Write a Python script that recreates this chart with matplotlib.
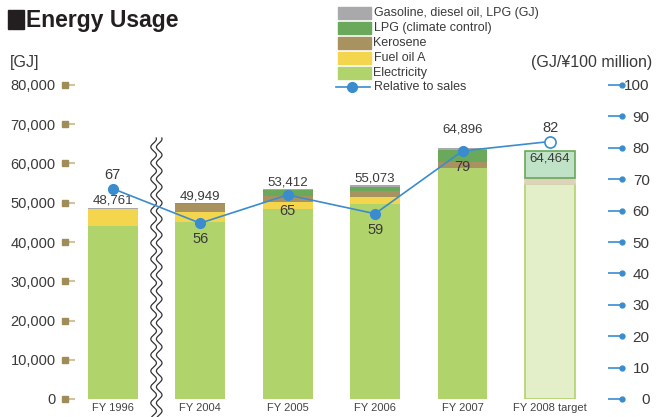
import numpy as np
import matplotlib
matplotlib.use('Agg')
import matplotlib.pyplot as plt
from matplotlib.patches import Rectangle
from matplotlib.lines import Line2D
from matplotlib import transforms

# values
years = ['FY 1996', 'FY 2004', 'FY 2005', 'FY 2006', 'FY 2007', 'FY 2008 target']
electricity = [44100, 45170, 48400, 49700, 58930, 54780]
fuel_oil_a = [4200, 2470, 1790, 1780, 0, 0]
kerosene = [0, 2110, 1600, 1450, 1530, 1530]
lpg_climate = [0, 200, 1530, 1100, 2980, 6960]
gasoline = [461, 0, 92, 430, 430, 0]
totals = [48761, 49949, 53412, 55073, 64896, 64464]
relative = [67, 56, 65, 59, 79, 82]

series_names = ['Gasoline, diesel oil, LPG (GJ)', 'LPG (climate control)', 'Kerosene',
                'Fuel oil A', 'Electricity']
colors = ['#a9a9ac', '#6aa85c', '#a89360', '#f3d54e', '#b0d36b']
target_colors = ['#a9a9ac', '#c0e3c8', '#ddd3bb', '#f7ec9f', '#e3efc9']
line_color = '#3a8ccf'
text_color = '#3a3a3a'
tick_tan = '#a08c58'

plt.rcParams['font.family'] = ['Liberation Sans', 'DejaVu Sans']

W, H = 667, 417
fig = plt.figure(figsize=(W / 100, H / 100), dpi=100)

def px(x0, y0, x1, y1):
    return [x0 / W, 1 - y1 / H, (x1 - x0) / W, (y1 - y0) / H]

ax = fig.add_axes(px(75, 85, 608, 399))
ax2 = ax.twinx()

x = np.arange(len(years))
bw = 0.57
stack = [electricity, fuel_oil_a, kerosene, lpg_climate, gasoline]
stack_colors = colors[::-1]
stack_target = target_colors[::-1]
target_edges = {'#e3efc9': '#b0d36b', '#c0e3c8': '#6aa85c'}
bottom = np.zeros(len(years))
for vals, c, ct in zip(stack, stack_colors, stack_target):
    vals = np.array(vals, dtype=float)
    ax.bar(x[:-1], vals[:-1], bw, bottom=bottom[:-1], color=c, zorder=2)
    if vals[-1] > 0:
        ax.bar(x[-1], vals[-1], bw, bottom=bottom[-1], color=ct,
               edgecolor=target_edges.get(ct, ct), linewidth=1.2, zorder=2)
    bottom += vals

ax.set_xlim(-0.431, 5.663)
ax.set_ylim(0, 80000)
ax2.set_ylim(0, 100)

# total labels
for i, (t, b) in enumerate(zip(totals, bottom)):
    lab = f'{t:,}'
    if i == len(years) - 1:
        ax.text(x[i], 61300, lab, ha='center', va='center', fontsize=9.5, color=text_color, zorder=5)
    elif i == 4:
        ax.annotate(lab, (x[i], b), xytext=(0, 9), textcoords='offset points',
                    ha='center', va='bottom', fontsize=9.5, color=text_color, zorder=5)
    else:
        ax.annotate(lab, (x[i], b), xytext=(0, 0.5), textcoords='offset points',
                    ha='center', va='bottom', fontsize=9.5, color=text_color, zorder=5)

# relative to sales line
ax2.plot(x, relative, color=line_color, lw=1.2, zorder=6)
ax2.plot(x[:-1], relative[:-1], 'o', color=line_color, ms=7, zorder=7)
ax2.plot(x[-1], relative[-1], 'o', mfc='white', mec=line_color, mew=1.2, ms=8, zorder=7)
for i, r in enumerate(relative):
    up = i in (0, len(relative) - 1)
    ax2.annotate(str(r), (x[i], r), xytext=(0, 9.5 if up else -11.5), textcoords='offset points',
                 ha='center', va='center', fontsize=10.5, color=text_color, zorder=8)

# axis break squiggle
yy = np.linspace(66500, -4600, 400)
phase = yy / 80000 * 314 / 16 * 2 * np.pi
amp = 2.8 / 87.46
for off in (-2.8, 2.8):
    ax.plot(0.5 + off / 87.46 + amp * np.sin(phase), yy, color='#333333', lw=0.9,
            clip_on=False, zorder=4)
ax.fill_betweenx(yy, 0.5 - 2.8 / 87.46 + amp * np.sin(phase),
                 0.5 + 2.8 / 87.46 + amp * np.sin(phase), color='white', zorder=3, clip_on=False)

# axes styling
for a in (ax, ax2):
    for s in a.spines.values():
        s.set_visible(False)
ax.set_xticks(x)
ax.set_xticklabels(years, fontsize=8, color='#444444')
ax.tick_params(axis='x', length=0, pad=3)
ax.set_yticks(np.arange(0, 80001, 10000))
ax.set_yticklabels([f'{v:,}' for v in range(0, 80001, 10000)], fontsize=10.5, color=text_color)
ax.tick_params(axis='y', length=9.4, width=1.5, color='#cfc3a0', pad=4.5)
ax2.set_yticks(np.arange(0, 101, 10))
ax2.set_yticklabels([str(v) for v in range(0, 101, 10)], fontsize=11, color=text_color, ha='right')
ax2.tick_params(axis='y', length=10, width=1.2, color=line_color, pad=20)

# tick ends: tan squares (left), blue dots (right)
tl = transforms.blended_transform_factory(ax.transAxes, ax.transData)
ax.plot(np.full(9, -9.7 / 533), np.arange(0, 80001, 10000), 's', color=tick_tan, ms=4.5,
        transform=tl, clip_on=False, zorder=5)
tr = transforms.blended_transform_factory(ax2.transAxes, ax2.transData)
ax2.plot(np.full(11, 1 + 13.7 / 533), np.arange(0, 101, 10), 'o', color=line_color, ms=3.5,
         transform=tr, clip_on=False, zorder=5)

# title
fig.add_artist(Rectangle((8 / W, 1 - 29 / H), 16 / W, 19 / H, color='#231f20', transform=fig.transFigure))
fig.text(26 / W, 1 - 20 / H, 'Energy Usage', fontsize=16.5, fontweight='bold', color='#231f20',
         va='center', ha='left')
fig.text(10 / W, 1 - 62 / H, '[GJ]', fontsize=11.5, color=text_color, va='center', ha='left')
fig.text(652 / W, 1 - 62 / H, '(GJ/¥100 million)', fontsize=11.5, color=text_color, va='center', ha='right')

# legend
row_y = [13.3, 27.7, 43.3, 58.3, 73]
for name, c, ry in zip(series_names, colors, row_y):
    fig.add_artist(Rectangle((338 / W, 1 - (ry + 6) / H), 33 / W, 12 / H, color=c,
                             transform=fig.transFigure))
    fig.text(373.5 / W, 1 - ry / H, name, fontsize=9, color=text_color, va='center', ha='left')
fig.add_artist(Line2D([336.5 / W, 370 / W], [1 - 87.3 / H] * 2, color=line_color, lw=1.2,
                      transform=fig.transFigure))
fig.add_artist(Line2D([351.7 / W], [1 - 87.3 / H], marker='o', color=line_color, ms=7,
                      transform=fig.transFigure))
fig.text(373.5 / W, 1 - 87.3 / H, 'Relative to sales', fontsize=9, color=text_color, va='center', ha='left')

fig.savefig('out.png', dpi=100)
